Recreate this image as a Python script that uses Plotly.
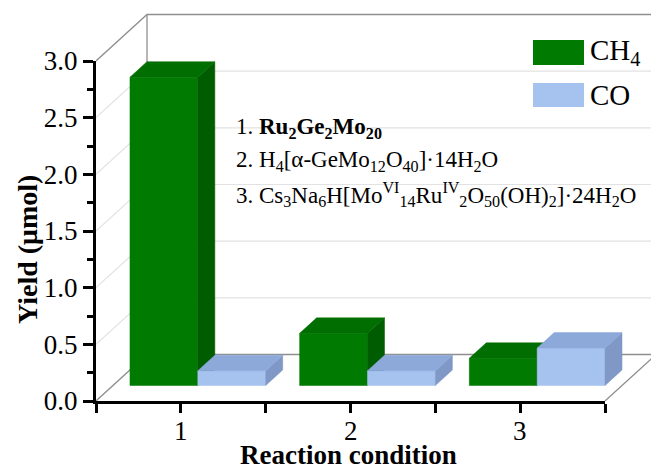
import plotly.graph_objects as go

# ---------------- data ----------------
categories = [1, 2, 3]
ch4_yield = [2.72, 0.46, 0.24]
co_yield = [0.13, 0.13, 0.33]
series_names = ["CH<sub>4</sub>", "CO"]
y_ticks = [0.0, 0.5, 1.0, 1.5, 2.0, 2.5, 3.0]
x_ticks = [1, 2, 3]
x_ticktext = ["1", "2", "3"]
notes = [
    "1. <b>Ru<sub>2</sub>Ge<sub>2</sub>Mo<sub>20</sub></b>",
    "2. H<sub>4</sub>[α-GeMo<sub>12</sub>O<sub>40</sub>]·14H<sub>2</sub>O",
    "3. Cs<sub>3</sub>Na<sub>6</sub>H[Mo<sup>VI</sup><sub>14</sub>Ru<sup>IV</sup><sub>2</sub>O<sub>50</sub>(OH)<sub>2</sub>]·24H<sub>2</sub>O",
]

# ---------------- layout constants (pixels) ----------------
W, H = 651, 471
PX_L, PX_R, PX_B, PX_T = 96, 605, 401, 61
DEP_X, DEP_Y = 51, 46.5
XMIN, XMAX, YMIN, YMAX = 0.5, 3.5, 0.0, 3.0
ux = (PX_R - PX_L) / (XMAX - XMIN)
uy = (PX_B - PX_T) / (YMAX - YMIN)
DX, DY = DEP_X / ux, DEP_Y / uy
B_TOP = 8
bx_max = XMIN + (W - PX_L) / ux
by_max = (PX_B - B_TOP) / uy

FONT = "Liberation Serif, Times New Roman, serif"
GREEN = dict(front="#007a00", top="#006e00", side="#005c00")
BLUE = dict(front="#a6c3f0", top="#8ca9da", side="#7f98c6")
WALL = "#8f8f8f"
GRID = "#e2e2e2"
BAR_W = 0.4

fig = go.Figure()

def line_b(xs, ys, color, width):
    fig.add_trace(go.Scatter(x=xs, y=ys, mode="lines", xaxis="x2", yaxis="y2",
                             line=dict(color=color, width=width),
                             hoverinfo="skip", showlegend=False))

# gridlines on back wall + left wall
for v in y_ticks[1:-1]:
    line_b([XMIN, XMIN + DX, XMAX + DX], [v, v + DY, v + DY], GRID, 1.2)
# box edges
line_b([XMIN, XMIN + DX, XMAX + DX], [YMAX, YMAX + DY, YMAX + DY], WALL, 1.3)
line_b([XMIN, XMIN + DX, XMAX + DX, XMAX], [YMIN, YMIN + DY, YMIN + DY, YMIN], WALL, 1.3)
line_b([XMIN + DX, XMIN + DX], [YMIN + DY, YMAX + DY], WALL, 1.3)

def poly(xs, ys, color):
    fig.add_trace(go.Scatter(x=xs + [xs[0]], y=ys + [ys[0]], mode="lines", fill="toself",
                             fillcolor=color, line=dict(color=color, width=0.5),
                             xaxis="x2", yaxis="y2", hoverinfo="skip", showlegend=False))

ox, oy = DX / 3, DY / 3
for i, cat in enumerate(categories):
    for j, (vals, col) in enumerate([(ch4_yield, GREEN), (co_yield, BLUE)]):
        v = vals[i]
        xl = cat - BAR_W + j * BAR_W + ox
        xr = xl + BAR_W
        b = oy
        t = v + oy
        poly([xl, xr, xr, xl], [b, b, t, t], col["front"])
        poly([xr, xr + ox, xr + ox, xr], [b, b + oy, t + oy, t], col["side"])
        poly([xl, xr, xr + ox, xl + ox], [t, t, t + oy, t + oy], col["top"])

# dummy trace for front axes
fig.add_trace(go.Scatter(x=[XMIN], y=[YMIN], mode="markers", marker=dict(opacity=0),
                         hoverinfo="skip", showlegend=False))

tick_font = dict(family=FONT, size=27, color="black")
fig.update_layout(
    width=W, height=H, margin=dict(l=0, r=0, t=0, b=0, autoexpand=False),
    paper_bgcolor="white", plot_bgcolor="rgba(0,0,0,0)", showlegend=False,
    xaxis=dict(domain=[PX_L / W, PX_R / W], range=[XMIN, XMAX], showgrid=False, zeroline=False,
               automargin=False,
               showline=True, linecolor="black", linewidth=3, ticks="outside", ticklen=9,
               tickwidth=2.5, tickcolor="black", tickvals=x_ticks, showticklabels=False,
               minor=dict(ticks="outside", ticklen=9, tickwidth=2.5, tickcolor="black",
                          tickvals=[0.5, 1.5, 2.5, 3.5])),
    yaxis=dict(domain=[(H - PX_B) / H, (H - PX_T) / H], range=[YMIN, YMAX], showgrid=False,
               automargin=False,
               zeroline=False, showline=True, linecolor="black", linewidth=3, ticks="outside",
               ticklen=10, tickwidth=2.5, tickcolor="black", tickvals=y_ticks,
               tickformat=".1f", tickfont=tick_font, ticklabelstandoff=0,
               minor=dict(ticks="outside", ticklen=6, tickwidth=2.5, tickcolor="black", dtick=0.25)),
    xaxis2=dict(domain=[PX_L / W, 1], range=[XMIN, bx_max], visible=False, anchor="y2",
                automargin=False),
    yaxis2=dict(domain=[(H - PX_B) / H, (H - B_TOP) / H], range=[YMIN, by_max], visible=False,
                anchor="x2", automargin=False),
)

def px2paper(x, y):
    return x / W, 1 - y / H

# x tick labels
for xv, lab in zip(x_ticks, x_ticktext):
    fig.add_annotation(x=xv, y=1 - 431 / H, xref="x", yref="paper", text=lab, showarrow=False,
                       font=tick_font, xanchor="center", yanchor="middle")

# axis titles
ax, ay = px2paper(348, 455)
fig.add_annotation(x=ax, y=ay, xref="paper", yref="paper", text="<b>Reaction condition</b>",
                   showarrow=False, font=dict(family=FONT, size=27, color="black"),
                   xanchor="center", yanchor="middle")
ax, ay = px2paper(27, 250)
fig.add_annotation(x=ax, y=ay, xref="paper", yref="paper", text="<b>Yield (μmol)</b>",
                   showarrow=False, textangle=-90, font=dict(family=FONT, size=28, color="black"),
                   xanchor="center", yanchor="middle")

# compound notes
for k, (txt, yc) in enumerate(zip(notes, [128, 161, 194])):
    ax, ay = px2paper(234, yc)
    fig.add_annotation(x=ax, y=ay, xref="paper", yref="paper", text=txt, showarrow=False,
                       font=dict(family=FONT, size=23, color="black"),
                       xanchor="left", yanchor="middle")

# legend (manual)
for k, (name, col, y0, y1) in enumerate([(series_names[0], GREEN["front"], 40, 65),
                                         (series_names[1], BLUE["front"], 83, 107)]):
    x0p, y0p = px2paper(533, y0)
    x1p, y1p = px2paper(584, y1)
    fig.add_shape(type="rect", xref="paper", yref="paper", x0=x0p, x1=x1p, y0=y1p, y1=y0p,
                  fillcolor=col, line=dict(width=0))
    tx, ty = px2paper(588, (y0 + y1) / 2)
    fig.add_annotation(x=tx, y=ty, xref="paper", yref="paper", text=name, showarrow=False,
                       font=dict(family=FONT, size=29, color="black"),
                       xanchor="left", yanchor="middle")

fig.write_html("out.html")
